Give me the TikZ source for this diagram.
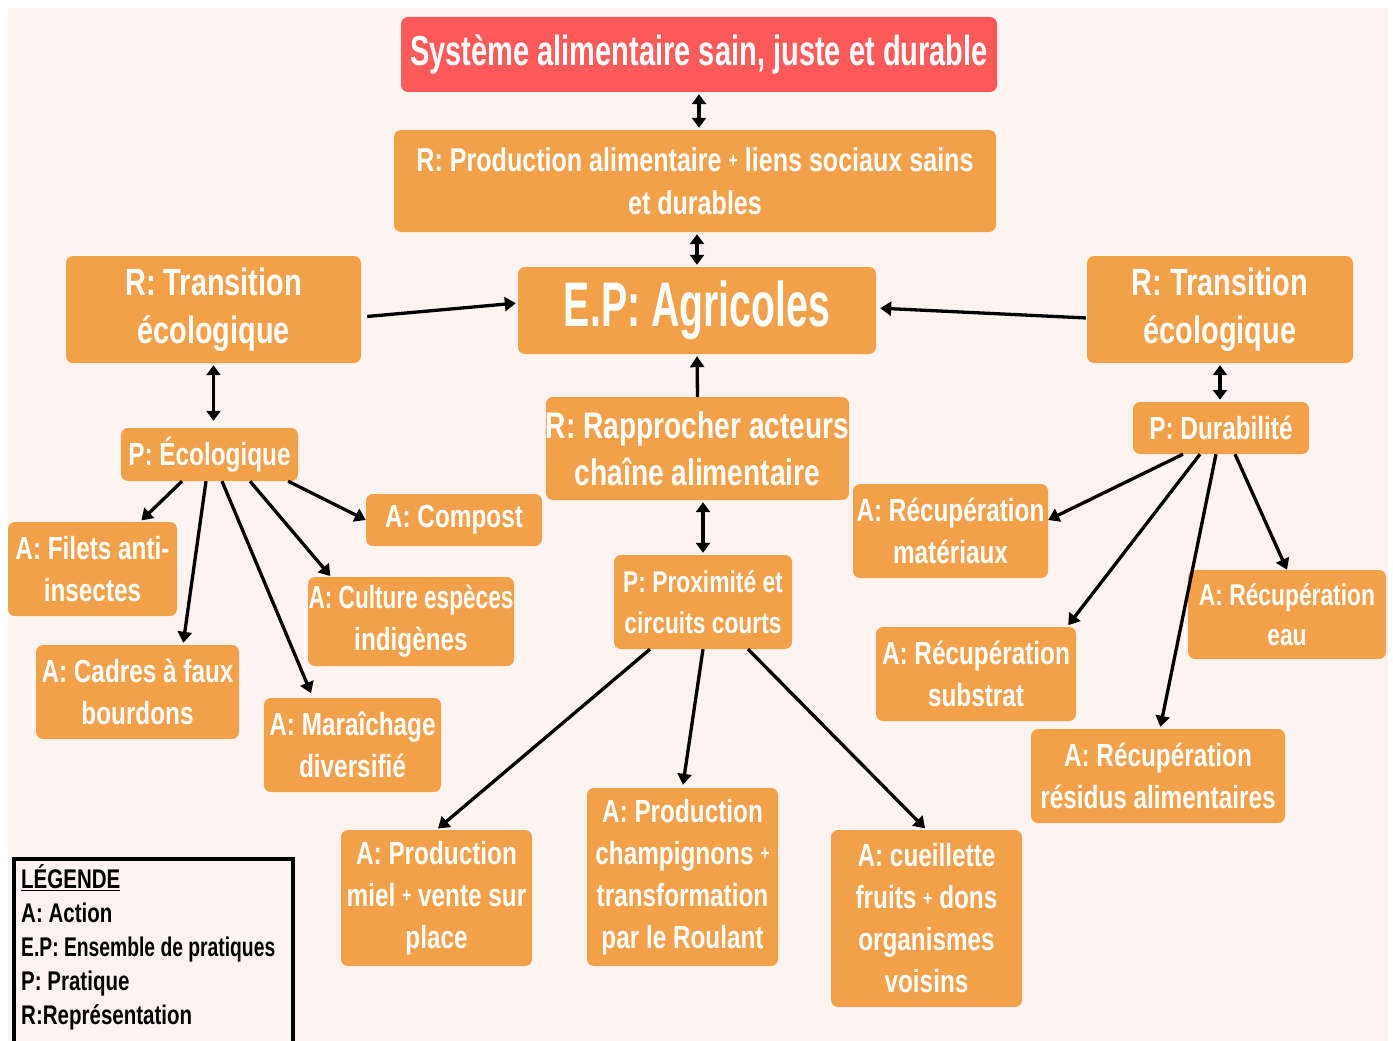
\documentclass[tikz,border=0pt]{standalone}
\usepackage{fontspec}
\setmainfont[FakeStretch=0.76]{Liberation Sans}
\usetikzlibrary{arrows.meta,calc}
\definecolor{bgpink}{HTML}{FDF4F2}
\definecolor{boxorange}{HTML}{F3A04A}
\definecolor{boxred}{HTML}{FF5A5A}
\newcommand\fsz[2]{\fontsize{#1}{#2}\selectfont}
\newcommand\smplus{\raisebox{0.12em}{\fontsize{21}{21}\selectfont+}}
\begin{document}
\begin{tikzpicture}[x=1pt,y=-1pt,
  box/.style={fill=boxorange, rounded corners=7pt, text=white, align=center, inner sep=0pt},
  fa/.style={font=\bfseries\fsz{32}{42}},
  arr/.style={line width=3.3pt, -{Triangle[length=11pt,width=14pt]}},
  darr/.style={line width=3.3pt, {Triangle[length=10pt,width=14pt]}-{Triangle[length=10pt,width=14pt]}}]
\useasboundingbox (0,0) rectangle (1393,1041);
\fill[white] (0,0) rectangle (1393,1041);
\fill[bgpink] (8,8) rectangle (1388,1041);

\node (sys) [box, fill=boxred, minimum width=596pt, minimum height=75pt, font=\bfseries\fsz{42}{50}] at (699,54.5) {\scalebox{0.91}[1]{Système alimentaire sain, juste et durable}};
\node (rprod) [box, minimum width=602pt, minimum height=102pt, font=\bfseries\fsz{33}{43}] at (695,181) {R: Production alimentaire \smplus{} liens sociaux sains\\et durables};
\node (ep) [box, minimum width=358pt, minimum height=87pt, font=\bfseries\fsz{63}{70}] at (697,310.5) {\scalebox{0.82}[1]{E.P: Agricoles}};
\node (rtl) [box, minimum width=295pt, minimum height=107pt, font=\bfseries\fsz{38}{48}] at (213.5,309.5) {R: Transition\\écologique};
\node (rtr) [box, minimum width=266pt, minimum height=107pt, font=\bfseries\fsz{38}{48}] at (1220,309.5) {R: Transition\\écologique};
\node (peco) [box, fa, minimum width=177pt, minimum height=53pt] at (209.5,454.5) {P: Écologique};
\node (afil) [box, fa, minimum width=169pt, minimum height=94pt] at (92.5,569) {A: Filets anti-\\insectes};
\node (acad) [box, fa, minimum width=203pt, minimum height=94pt] at (137.5,692) {A: Cadres à faux\\bourdons};
\node (amar) [box, fa, minimum width=177pt, minimum height=94pt] at (352.5,745) {A: Maraîchage\\diversifié};
\node (acul) [box, fa, minimum width=206pt, minimum height=89pt] at (411,621.5) {\scalebox{0.93}[1]{A: Culture espèces}\\indigènes};
\node (acomp) [box, fa, minimum width=176pt, minimum height=52pt] at (454,520) {A: Compost};
\node (rrap) [box, minimum width=303pt, minimum height=103pt, font=\bfseries\fsz{37}{47}] at (697.5,448.5) {R: Rapprocher acteurs\\chaîne alimentaire};
\node (pprox) [box, minimum width=178pt, minimum height=94pt, font=\bfseries\fsz{30}{41}] at (703,602) {P: Proximité et\\circuits courts};
\node (amiel) [box, fa, minimum width=191pt, minimum height=136pt] at (436.5,898) {A: Production\\miel \smplus{} vente sur\\place};
\node (achamp) [box, fa, minimum width=191pt, minimum height=178pt] at (682.5,877) {A: Production\\champignons \smplus\\transformation\\par le Roulant};
\node (acueil) [box, fa, minimum width=191pt, minimum height=177pt] at (926.5,918.5) {A: cueillette\\fruits \smplus{} dons\\organismes\\voisins};
\node (pdur) [box, fa, minimum width=176pt, minimum height=52pt] at (1221,428) {P: Durabilité};
\node (amat) [box, fa, minimum width=195pt, minimum height=94pt] at (950.5,531) {A: Récupération\\matériaux};
\node (asub) [box, fa, minimum width=200pt, minimum height=94pt] at (976,674) {A: Récupération\\substrat};
\node (aeau) [box, minimum width=198pt, minimum height=89pt, font=\bfseries\fsz{30}{40}] at (1287,614.5) {A: Récupération\\eau};
\node (ares) [box, fa, minimum width=254pt, minimum height=94pt] at (1158,776) {A: Récupération\\résidus alimentaires};

\node (leg) [draw=black, line width=4pt, anchor=north west, minimum width=279pt, minimum height=200pt, inner sep=0pt] at (12,857) {};
\node (legtext) [anchor=north west, align=left, inner sep=0pt, font=\bfseries\fsz{27}{34}] at (21,864) {\underline{LÉGENDE}\\A: Action\\\scalebox{0.94}[1]{E.P: Ensemble de pratiques}\\P: Pratique\\R:Représentation};

% connectors
\draw[darr, shorten <=2pt, shorten >=2pt] (sys.south) -- (sys.south |- rprod.north);
\draw[darr, shorten <=2pt, shorten >=2pt] (ep.north |- rprod.south) -- (ep.north);
\draw[arr, shorten <=6pt, shorten >=2pt] ([yshift=-7.5pt]rtl.east) -- ([yshift=7.5pt]ep.west);
\draw[arr, shorten <=1pt, shorten >=4pt] ([yshift=-8.5pt]rtr.west) -- ([yshift=2.5pt]ep.east);
\draw[arr, shorten >=2pt] (rrap.north) -- (ep.south);
\draw[darr, shorten <=2pt, shorten >=7pt] (rtl.south) -- (rtl.south |- peco.north);
\draw[darr, shorten <=2pt, shorten >=2pt] (rtr.south) -- (rtr.south |- pdur.north);
\draw[darr, shorten <=2pt, shorten >=2pt] (pprox.north |- rrap.south) -- (pprox.north);

\draw[arr, shorten >=2pt] ([xshift=-27.5pt]peco.south) -- ([xshift=47.5pt]afil.north);
\draw[arr, shorten >=2pt] ([xshift=-3.5pt]peco.south) -- ([xshift=45.5pt]acad.north);
\draw[arr, shorten >=5pt] ([xshift=12.5pt]peco.south) -- ([xshift=-39.5pt]amar.north);
\draw[arr, shorten >=1pt] ([xshift=40.5pt]peco.south) -- ([xshift=-80pt]acul.north);
\draw[arr] ([xshift=-10pt]peco.south east) -- (acomp.west);

\draw[arr, shorten >=2pt] ([xshift=-53pt]pprox.south) -- (amiel.north);
\draw[arr, shorten >=3pt] (pprox.south) -- (achamp.north);
\draw[arr, shorten >=2pt] ([xshift=45pt]pprox.south) -- (acueil.north);

\draw[arr] ([xshift=-38pt]pdur.south) -- ([yshift=11pt]amat.east);
\draw[arr, shorten >=2pt] ([xshift=-21pt]pdur.south) -- ([xshift=91pt]asub.north);
\draw[arr, shorten >=2pt] ([xshift=-5pt]pdur.south) -- ([xshift=2pt]ares.north);
\draw[arr] ([xshift=14pt]pdur.south) -- (aeau.north);
\end{tikzpicture}
\end{document}
